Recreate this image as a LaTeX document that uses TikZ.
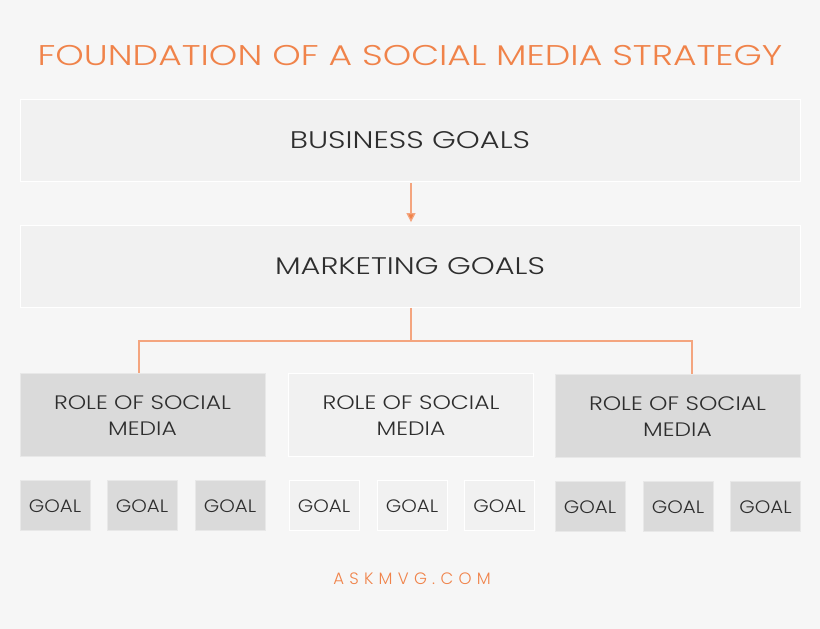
\documentclass[tikz,border=0pt]{standalone}
\usepackage{fontspec}
\setmainfont{Poppins}[UprightFont=* Light]
\usetikzlibrary{arrows.meta}
\definecolor{bg}{HTML}{F6F6F6}
\definecolor{orng}{HTML}{F0834A}
\definecolor{lorng}{HTML}{F4A57F}
\definecolor{boxlight}{HTML}{F1F1F1}
\definecolor{boxdark}{HTML}{DADADA}
\definecolor{txt}{HTML}{2E2E2E}
\newcommand\widetext[2]{\scalebox{#1}[1]{#2}}
\tikzset{
  bigbox/.style={rectangle, draw=white, line width=0.8pt, fill=boxlight, minimum width=780pt, minimum height=82pt, inner sep=0pt, text=txt, font=\fontsize{24}{28}\selectfont},
  roledark/.style={rectangle, draw=boxlight!60!boxdark, line width=0.8pt, fill=boxdark, minimum width=245pt, minimum height=83pt, inner sep=0pt, text=txt, align=center, font=\fontsize{19.5}{25}\selectfont},
  rolelight/.style={roledark, fill=boxlight, draw=white},
  goaldark/.style={rectangle, draw=boxlight!60!boxdark, line width=0.8pt, fill=boxdark, minimum width=70pt, minimum height=50pt, inner sep=0pt, text=txt, font=\fontsize{18}{22}\selectfont},
  goallight/.style={goaldark, fill=boxlight, draw=white},
  conn/.style={draw=lorng, line width=1.2pt},
}
\newcommand\roletext{\raisebox{-3pt}[\height][\depth]{\widetext{1.2}{\begin{tabular}{@{}c@{}}ROLE OF SOCIAL\\[0.5pt]MEDIA\end{tabular}}}}
\newcommand\goaltext{\raisebox{-1pt}[\height][\depth]{\widetext{1.1}{GOAL}}}
\begin{document}
\begin{tikzpicture}[x=1pt,y=-1pt]
\fill[bg] (0,0) rectangle (820,629);
\useasboundingbox (0,0) rectangle (820,629);
\node[text=orng, font=\fontsize{28.5}{32}\selectfont] (title) at (410,56) {\widetext{1.27}{FOUNDATION OF A SOCIAL MEDIA STRATEGY}};
\node[bigbox] (business) at (410,140) {\widetext{1.27}{BUSINESS GOALS}};
\node[bigbox] (marketing) at (410,266.5) {\widetext{1.27}{MARKETING GOALS}};
\coordinate (ax) at (411,0);
\draw[conn, -{Triangle[length=9pt,width=9pt,fill=orng]}, shorten <=2pt, shorten >=3pt] (business.south -| ax) -- (marketing.north -| ax);
\node[roledark] (r1) at (142.5,414.5) {\roletext};
\node[rolelight] (r2) at (411,414.5) {\roletext};
\node[roledark] (r3) at (677.5,415.5) {\roletext};
\coordinate (jm) at (411,341);
\coordinate (cl) at (139,341);
\coordinate (cr) at (692,341);
\draw[conn] (marketing.south -| jm) -- (jm);
\draw[conn] (cl |- r1.north) -- (cl) -- (cr) -- (cr |- r3.north);
\node[goaldark] (g1) at (55,505) {\goaltext};
\node[goaldark] (g2) at (142,505) {\goaltext};
\node[goaldark] (g3) at (230,505) {\goaltext};
\node[goallight] (g4) at (324,505) {\goaltext};
\node[goallight] (g5) at (412,505) {\goaltext};
\node[goallight] (g6) at (499.5,505) {\goaltext};
\node[goaldark] (g7) at (590,506) {\goaltext};
\node[goaldark] (g8) at (678,506) {\goaltext};
\node[goaldark] (g9) at (765.5,506) {\goaltext};
\node[text=orng, font=\fontsize{16.5}{20}\selectfont\addfontfeature{LetterSpace=32}] (footer) at (412,579) {ASKMVG.COM};
\end{tikzpicture}
\end{document}
